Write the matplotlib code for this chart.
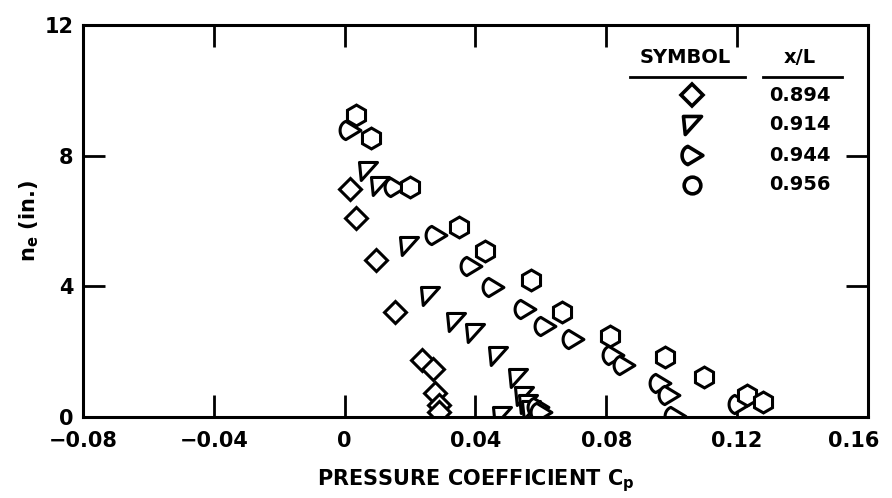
import numpy as np
import matplotlib
matplotlib.use('Agg')
import matplotlib.pyplot as plt
import matplotlib.transforms as mtrans
from matplotlib.path import Path

# ---- data ----
x_0894 = [0.0015, 0.0034, 0.0095, 0.0153, 0.0238, 0.0270, 0.0275, 0.0290, 0.0290]
y_0894 = [6.98, 6.09, 4.80, 3.20, 1.75, 1.45, 0.74, 0.37, 0.15]

x_0914 = [0.0070, 0.0107, 0.0196, 0.0260, 0.0340, 0.0400, 0.0470, 0.0530, 0.0550, 0.0560, 0.0570, 0.0480]
y_0914 = [7.54, 7.08, 5.23, 3.70, 2.89, 2.58, 1.85, 1.20, 0.65, 0.40, 0.20, 0.02]

x_0944 = [0.0015, 0.0153, 0.0280, 0.0385, 0.0455, 0.0553, 0.0614, 0.0697, 0.0820,
          0.0855, 0.0963, 0.0993, 0.1010, 0.1206, 0.0590, 0.0600]
y_0944 = [8.77, 7.05, 5.57, 4.62, 3.97, 3.29, 2.77, 2.37, 1.90,
          1.60, 1.05, 0.68, 0.02, 0.40, 0.30, 0.15]

x_0956 = [0.0034, 0.0080, 0.0200, 0.0350, 0.0430, 0.0570, 0.0666, 0.0810, 0.0980, 0.1100, 0.1230, 0.1280]
y_0956 = [9.23, 8.55, 7.05, 5.80, 5.08, 4.18, 3.20, 2.46, 1.82, 1.23, 0.68, 0.46]

series_labels = ['0.894', '0.914', '0.944', '0.956']
xticks = [-0.08, -0.04, 0, 0.04, 0.08, 0.12, 0.16]
xticklabels = ['\u22120.08', '\u22120.04', '0', '0.04', '0.08', '0.12', '0.16']
yticks = [0, 4, 8, 12]
yticklabels = ['0', '4', '8', '12']

# ---- marker shapes ----
tri_marker = Path([(-1, 1), (1, 1), (-0.8, -1), (-1, 1)], closed=True)
ang = np.linspace(np.pi * 0.6, np.pi * 1.4, 24)
d_verts = [(-0.2 + 0.8 * np.cos(a), 0.8 * np.sin(a) * 1.15) for a in ang]
d_verts = d_verts + [(1.0, 0.0), d_verts[0]]
d_marker = Path(d_verts, closed=True)

plt.rcParams['font.family'] = ['DejaVu Sans']
plt.rcParams['font.weight'] = 'bold'
plt.rcParams['mathtext.default'] = 'bf'

fig = plt.figure(figsize=(8.92, 4.98), dpi=100)
ax = fig.add_axes([0.093, 0.163, 0.880, 0.787])

style = dict(linestyle='none', markerfacecolor='white', markeredgecolor='black',
             markeredgewidth=2.2, clip_on=True)
ax.plot(x_0894, y_0894, marker='D', markersize=11, **style)
ax.plot(x_0914, y_0914, marker=tri_marker, markersize=13, **style)
ax.plot(x_0944, y_0944, marker=d_marker, markersize=15, **style)
ax.plot(x_0956, y_0956, marker='h', markersize=15, **style)

ax.set_xlim(-0.08, 0.16)
ax.set_ylim(0, 12)
ax.set_xticks(xticks)
ax.set_xticklabels(xticklabels)
ax.set_yticks(yticks)
ax.set_yticklabels(yticklabels)
ax.tick_params(direction='in', length=16, width=2, top=True, right=True, labelsize=15)
ax.tick_params(axis='x', pad=10)
ax.tick_params(axis='y', pad=7)
for s in ax.spines.values():
    s.set_linewidth(2.2)

# last x label sits left of its tick so it fits inside the figure
last = ax.get_xticklabels()[-1]
last.set_transform(last.get_transform() + mtrans.ScaledTranslation(-10 / 72, 0, fig.dpi_scale_trans))

ax.set_xlabel('PRESSURE COEFFICIENT $C_p$', fontsize=15, fontweight='bold', labelpad=12)
ax.set_ylabel('$n_e$ (in.)', fontsize=15, fontweight='bold', labelpad=2)

# ---- table-style legend ----
tr = ax.transAxes
ax.text(0.767, 0.918, 'SYMBOL', transform=tr, ha='center', va='center', fontsize=14, fontweight='bold')
ax.text(0.913, 0.918, 'x/L', transform=tr, ha='center', va='center', fontsize=14, fontweight='bold')
ax.plot([0.697, 0.843], [0.867, 0.867], transform=tr, color='black', lw=2, clip_on=False)
ax.plot([0.866, 0.967], [0.867, 0.867], transform=tr, color='black', lw=2, clip_on=False)
row_y = [0.821, 0.745, 0.668, 0.592]
markers = [('D', 11), (tri_marker, 13), (d_marker, 15), ('o', 12)]
for (m, ms), yy, lab in zip(markers, row_y, series_labels):
    ax.plot([0.776], [yy], transform=tr, marker=m, markersize=ms, linestyle='none',
            markerfacecolor='white', markeredgecolor='black', markeredgewidth=2.6, clip_on=False)
    ax.text(0.913, yy, lab, transform=tr, ha='center', va='center', fontsize=14, fontweight='bold')

fig.savefig('out.png', dpi=100)
